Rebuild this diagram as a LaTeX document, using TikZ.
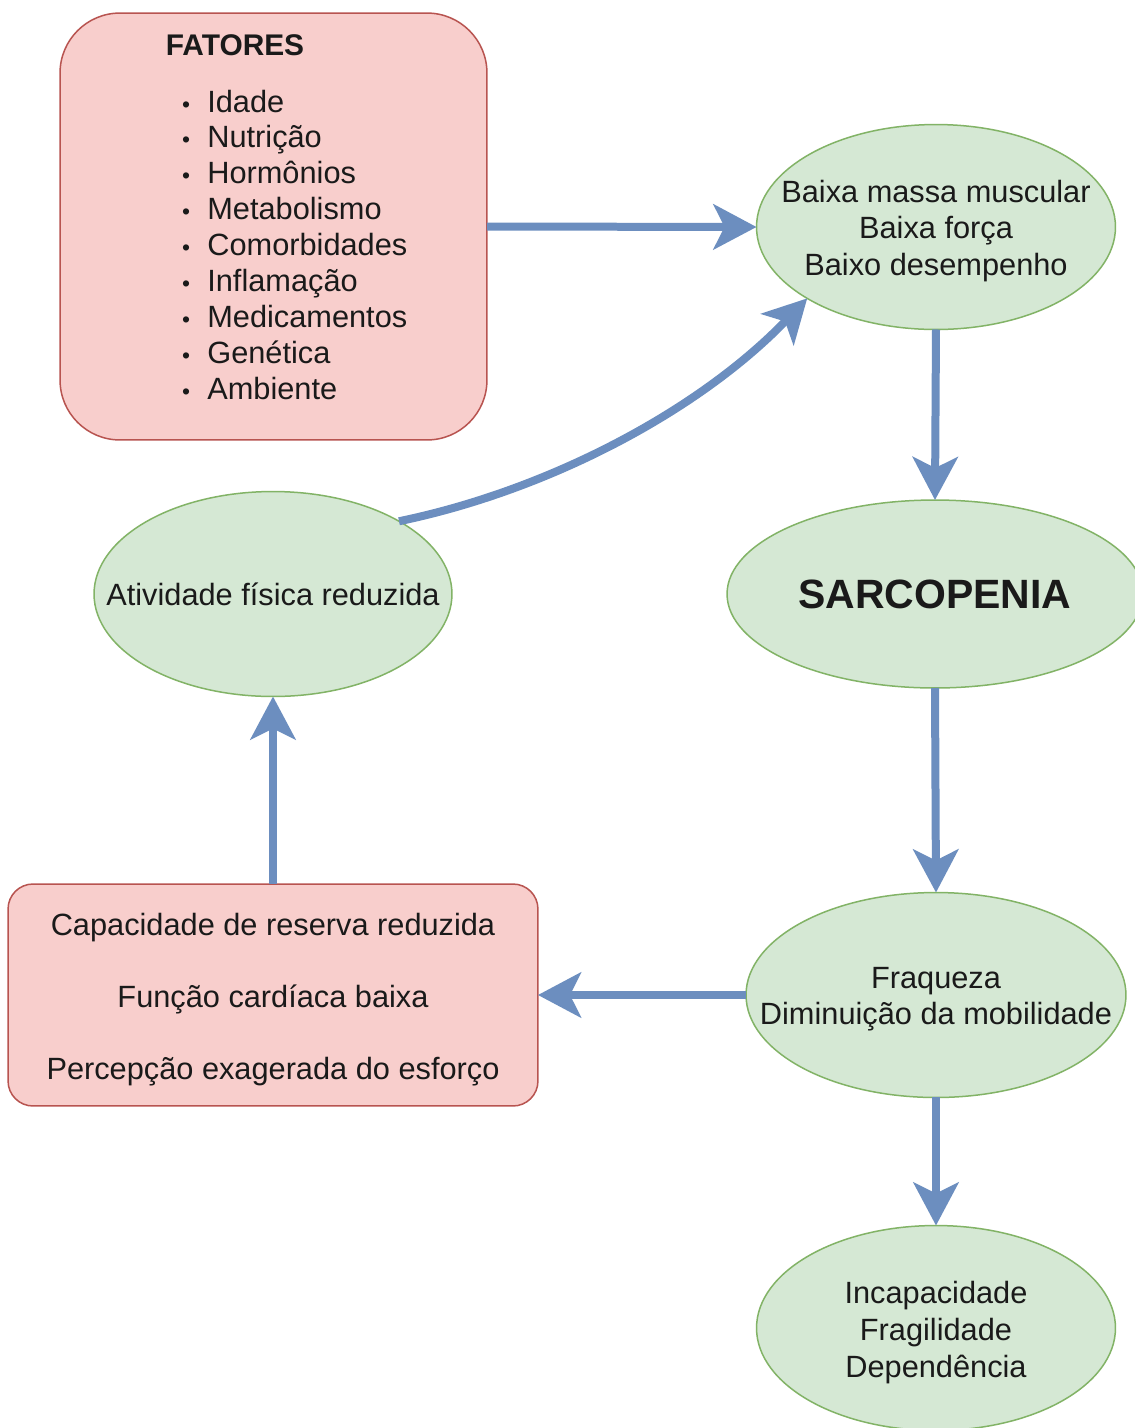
\documentclass[tikz,border=0pt]{standalone}
\usepackage{fontspec}
\setmainfont{Liberation Sans}
\usetikzlibrary{shapes.geometric,arrows.meta}
\definecolor{gfill}{HTML}{D5E8D4}
\definecolor{gdraw}{HTML}{82B366}
\definecolor{rfill}{HTML}{F8CECC}
\definecolor{rdraw}{HTML}{B85450}
\definecolor{ablue}{HTML}{6C8EBF}
\definecolor{tcol}{HTML}{1A1A1A}
\begin{document}
\begin{tikzpicture}[x=0.02cm,y=-0.02cm,
  ell/.style={ellipse, draw=gdraw, fill=gfill, line width=0.03cm, inner sep=0, outer sep=0},
  rbox/.style={rectangle, draw=rdraw, fill=rfill, line width=0.03cm, inner sep=0, outer sep=0},
  txt/.style={font=\fontsize{17.5pt}{20.5pt}\selectfont, text=tcol, align=center, inner sep=0},
  arr/.style={draw=ablue, line width=0.16cm, -{Stealth[length=0.86cm,width=0.9cm,inset=0.22cm]}}]
\clip (0,0) rectangle (1135,1428);
\fill[white] (0,0) rectangle (1135,1428);

% shapes
\node[rbox, rounded corners=1.2cm, minimum width=8.54cm, minimum height=8.54cm] (fat) at (273.5,226.5) {};
\node[rbox, rounded corners=0.5cm, minimum width=10.6cm, minimum height=4.44cm] (res) at (273,995) {};
\node[ell, minimum width=7.18cm, minimum height=4.1cm] (mass) at (936,227) {};
\node[ell, minimum width=8.32cm, minimum height=3.76cm] (sarc) at (935,594) {};
\node[ell, minimum width=7.6cm, minimum height=4.1cm] (fraq) at (936,995) {};
\node[ell, minimum width=7.18cm, minimum height=4.1cm] (inca) at (936,1328) {};
\node[ell, minimum width=7.16cm, minimum height=4.1cm] (ativ) at (273,594) {};

% texts
\node[txt, font=\fontsize{17pt}{20.5pt}\selectfont\bfseries] (fattitle) at (235,45) {FATORES};
\foreach \t [count=\i] in {Idade,Nutrição,Hormônios,Metabolismo,Comorbidades,Inflamação,Medicamentos,Genética,Ambiente}{
  \node[txt, anchor=base west] (item\i) at (207,{101+35.9*(\i-1)+11}) {\t};
  \node[txt, anchor=base, font=\fontsize{13pt}{14pt}\selectfont] (bul\i) at (186,{101+35.9*(\i-1)+11}) {•};
}
\node[txt, font=\fontsize{17.5pt}{21pt}\selectfont, yshift=-0.08cm] (masst) at (mass.center) {Baixa massa muscular\\Baixa força\\Baixo desempenho};
\node[txt, font=\fontsize{23.3pt}{26pt}\selectfont\bfseries] (sarct) at (sarc.center) {SARCOPENIA};
\node[txt, yshift=-0.08cm] (fraqt) at (fraq.center) {Fraqueza\\Diminuição da mobilidade};
\node[txt, font=\fontsize{17.5pt}{21pt}\selectfont, yshift=-0.09cm] (incat) at (inca.center) {Incapacidade\\Fragilidade\\Dependência};
\node[txt] (ativt) at (ativ.center) {Atividade física reduzida};
\node[txt, yshift=-0.07cm] (res1) at (273,924) {Capacidade de reserva reduzida};
\node[txt, yshift=-0.07cm] (res2) at (273,996) {Função cardíaca baixa};
\node[txt, yshift=-0.07cm] (res3) at (273,1068) {Percepção exagerada do esforço};

% arrows
\draw[arr] (fat.east) -- (mass.west);
\draw[arr] (mass.south) -- (sarc.north);
\draw[arr] (sarc.south) -- (fraq.north);
\draw[arr] (fraq.west) -- (res.east);
\draw[arr] (fraq.south) -- (inca.north);
\draw[arr] (res.north) -- (ativ.south);
\draw[arr] (ativ.30) .. controls (550,490) and (700,410) .. (mass.209);
\end{tikzpicture}
\end{document}
